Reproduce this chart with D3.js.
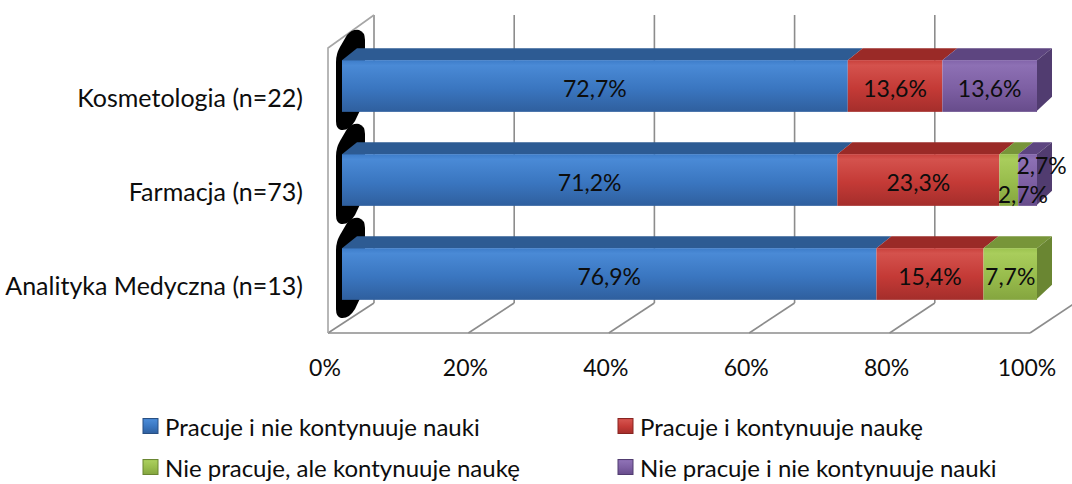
<!DOCTYPE html>
<html>
<head>
<meta charset="utf-8">
<script src="https://cdn.jsdelivr.net/npm/d3@7"></script>
<style>
  body { margin: 0; background: #fff; }
  text { font-family: Lato, "Open Sans", sans-serif; fill: #0d0d0d; }
</style>
</head>
<body>
<div id="container"></div>
<script>
// chart data
const categories = ['Kosmetologia (n=22)', 'Farmacja (n=73)', 'Analityka Medyczna (n=13)'];
const seriesNames = ['Pracuje i nie kontynuuje nauki', 'Pracuje i kontynuuje naukę',
                     'Nie pracuje, ale kontynuuje naukę', 'Nie pracuje i nie kontynuuje nauki'];
const pracujeNieKontynuuje = [72.7, 71.2, 76.9];
const pracujeKontynuuje = [13.6, 23.3, 15.4];
const niePracujeKontynuuje = [0, 2.7, 7.7];
const niePracujeNieKontynuuje = [13.6, 2.7, 0];
const tickValues = [0, 20, 40, 60, 80, 100];
const tickLabels = ['0%', '20%', '40%', '60%', '80%', '100%'];

const series = [pracujeNieKontynuuje, pracujeKontynuuje, niePracujeKontynuuje, niePracujeNieKontynuuje];

// colours: front gradient stops, top face, end face
const palette = [
    { id: 'blue',   stops: ['#3d7cc9', '#4a8ad6', '#3a76c0', '#2f5f9e'], top: '#2d5b93', end: '#284f82' },
    { id: 'red',    stops: ['#c8403c', '#d4524d', '#c43a36', '#a42e2b'], top: '#9a2a27', end: '#872421' },
    { id: 'green',  stops: ['#9cc34f', '#a9cd5c', '#98bc4c', '#84a53f'], top: '#779539', end: '#6a8632' },
    { id: 'purple', stops: ['#8264aa', '#8d70b4', '#7d5fa3', '#674c8b'], top: '#5d4580', end: '#513c70' }
];

// svg dimensions
const w = 1072;
const h = 484;

const svg = d3.select('#container')
                .append('svg')
                .attr('width', w)
                .attr('height', h);

svg.append('rect').attr('width', w).attr('height', h).attr('fill', '#fff');

// gradients
const defs = svg.append('defs');
palette.forEach(p => {
    const g = defs.append('linearGradient')
                .attr('id', 'grad-' + p.id)
                .attr('x1', 0).attr('y1', 0).attr('x2', 0).attr('y2', 1);
    [0, 0.1, 0.55, 1].forEach((o, i) => {
        g.append('stop').attr('offset', o).attr('stop-color', p.stops[i]);
    });
});

// 3d frame geometry
const floorFront = 333, floorBack = 303;
const wallTopFront = 48, wallTopBack = 15;

// scales
const xFront = d3.scaleLinear().domain([0, 100]).range([328, 1030]);
const xBack = d3.scaleLinear().domain([0, 100]).range([374, 1075]);
const xBar = d3.scaleLinear().domain([0, 100]).range([342, 1037]);
const yScale = d3.scaleBand()
                .domain(categories)
                .range([39, 321])
                .paddingInner(0.45)
                .paddingOuter(0.225);

const depth = { dx: 15, dy: -12 };

// frame: walls, floor, gridlines
const frame = svg.append('g')
                .attr('fill', 'none')
                .attr('stroke', '#8c8c8c')
                .attr('stroke-width', 1.6);

frame.selectAll('.grid-back')
    .data(tickValues)
    .enter()
    .append('line')
    .attr('x1', d => xBack(d)).attr('x2', d => xBack(d))
    .attr('y1', wallTopBack).attr('y2', floorBack);

frame.selectAll('.grid-floor')
    .data(tickValues)
    .enter()
    .append('line')
    .attr('x1', d => xFront(d)).attr('y1', floorFront)
    .attr('x2', d => xBack(d)).attr('y2', floorBack);

frame.append('line')
    .attr('x1', xFront(0)).attr('x2', xFront(100))
    .attr('y1', floorFront).attr('y2', floorFront);

frame.append('path')
    .attr('d', `M${xFront(0)},${floorFront} L${xFront(0)},${wallTopFront} L${xBack(0)},${wallTopBack}`)
    .attr('stroke', '#a6a6a6');

// black left caps of the bars
svg.append('g')
    .selectAll('path')
    .data(categories)
    .enter()
    .append('path')
    .attr('fill', '#000')
    .attr('d', d => {
        const cy = yScale(d) + yScale.bandwidth() / 2;
        return `M347,${cy - 51} Q352,${cy - 57} 359,${cy - 56} Q365,${cy - 54} 365,${cy - 46}
                L365,${cy + 14} L355,${cy + 35} Q349,${cy + 45} 341,${cy + 44} Q336,${cy + 43} 336,${cy + 35}
                L336,${cy - 24} Q336,${cy - 32} 340,${cy - 39} Z`;
    });

// stacked bars
const rows = categories.map((c, i) => {
    const vals = series.map(s => s[i]);
    const total = d3.sum(vals);
    let acc = 0;
    const segs = vals.map((v, k) => {
        const x0 = acc / total * 100;
        acc += v;
        return { cat: c, k: k, v: v, x0: x0, x1: acc / total * 100 };
    }).filter(s => s.v > 0);
    return { cat: c, segs: segs };
});

const bars = svg.append('g');

rows.forEach(row => {
    const y0 = yScale(row.cat);
    const y1 = y0 + yScale.bandwidth();
    const g = bars.append('g');

    // top faces
    g.selectAll('.top')
        .data(row.segs)
        .enter()
        .append('path')
        .attr('fill', d => palette[d.k].top)
        .attr('d', d => `M${xBar(d.x0)},${y0} L${xBar(d.x0) + depth.dx},${y0 + depth.dy}
                         L${xBar(d.x1) + depth.dx},${y0 + depth.dy} L${xBar(d.x1)},${y0} Z`);

    // right end face of the last segment
    const last = row.segs[row.segs.length - 1];
    g.append('path')
        .attr('fill', palette[last.k].end)
        .attr('d', `M${xBar(last.x1)},${y0} L${xBar(last.x1) + depth.dx},${y0 + depth.dy}
                    L${xBar(last.x1) + depth.dx},${y1 + depth.dy - 3} L${xBar(last.x1) - 1},${y1} Z`);

    // front faces
    g.selectAll('.front')
        .data(row.segs)
        .enter()
        .append('rect')
        .attr('x', d => xBar(d.x0))
        .attr('y', y0)
        .attr('width', d => xBar(d.x1) - xBar(d.x0))
        .attr('height', y1 - y0)
        .attr('fill', d => `url(#grad-${palette[d.k].id})`);

    // data labels, small segments pushed aside
    let small = 0;
    g.selectAll('.lbl')
        .data(row.segs)
        .enter()
        .append('text')
        .attr('text-anchor', 'middle')
        .attr('dominant-baseline', 'central')
        .style('font-size', '23px')
        .each(function(d) {
            let cx = (xBar(d.x0) + xBar(d.x1)) / 2;
            let cy = (y0 + y1) / 2 + 2;
            if (xBar(d.x1) - xBar(d.x0) < 40) {
                cx += 14;
                cy += small === 0 ? 12 : -17;
                small++;
            }
            d3.select(this).attr('x', cx).attr('y', cy);
        })
        .text(d => d.v.toFixed(1).replace('.', ',') + '%');
});

// category labels
svg.append('g')
    .selectAll('text')
    .data(categories)
    .enter()
    .append('text')
    .attr('x', 303)
    .attr('y', d => yScale(d) + yScale.bandwidth() / 2 + 11)
    .attr('text-anchor', 'end')
    .attr('dominant-baseline', 'central')
    .style('font-size', '25px')
    .text(d => d);

// x tick labels
svg.append('g')
    .selectAll('text')
    .data(tickValues)
    .enter()
    .append('text')
    .attr('x', d => xFront(d) - 3)
    .attr('y', 367)
    .attr('text-anchor', 'middle')
    .attr('dominant-baseline', 'central')
    .style('font-size', '23px')
    .text((d, i) => tickLabels[i]);

// legend
const legendPos = [[143, 426], [618, 426], [143, 467], [618, 467]];
const legend = svg.append('g')
                .selectAll('g')
                .data(seriesNames)
                .enter()
                .append('g')
                .attr('transform', (d, i) => `translate(${legendPos[i][0]}, ${legendPos[i][1]})`);

legend.append('rect')
    .attr('x', 0).attr('y', -7.5)
    .attr('width', 15).attr('height', 15)
    .attr('fill', (d, i) => `url(#grad-${palette[i].id})`)
    .attr('stroke', (d, i) => palette[i].end)
    .attr('stroke-width', 1);

legend.append('text')
    .attr('x', 22)
    .attr('y', 0)
    .attr('dominant-baseline', 'central')
    .style('font-size', '24px')
    .text(d => d);
</script>
</body>
</html>
